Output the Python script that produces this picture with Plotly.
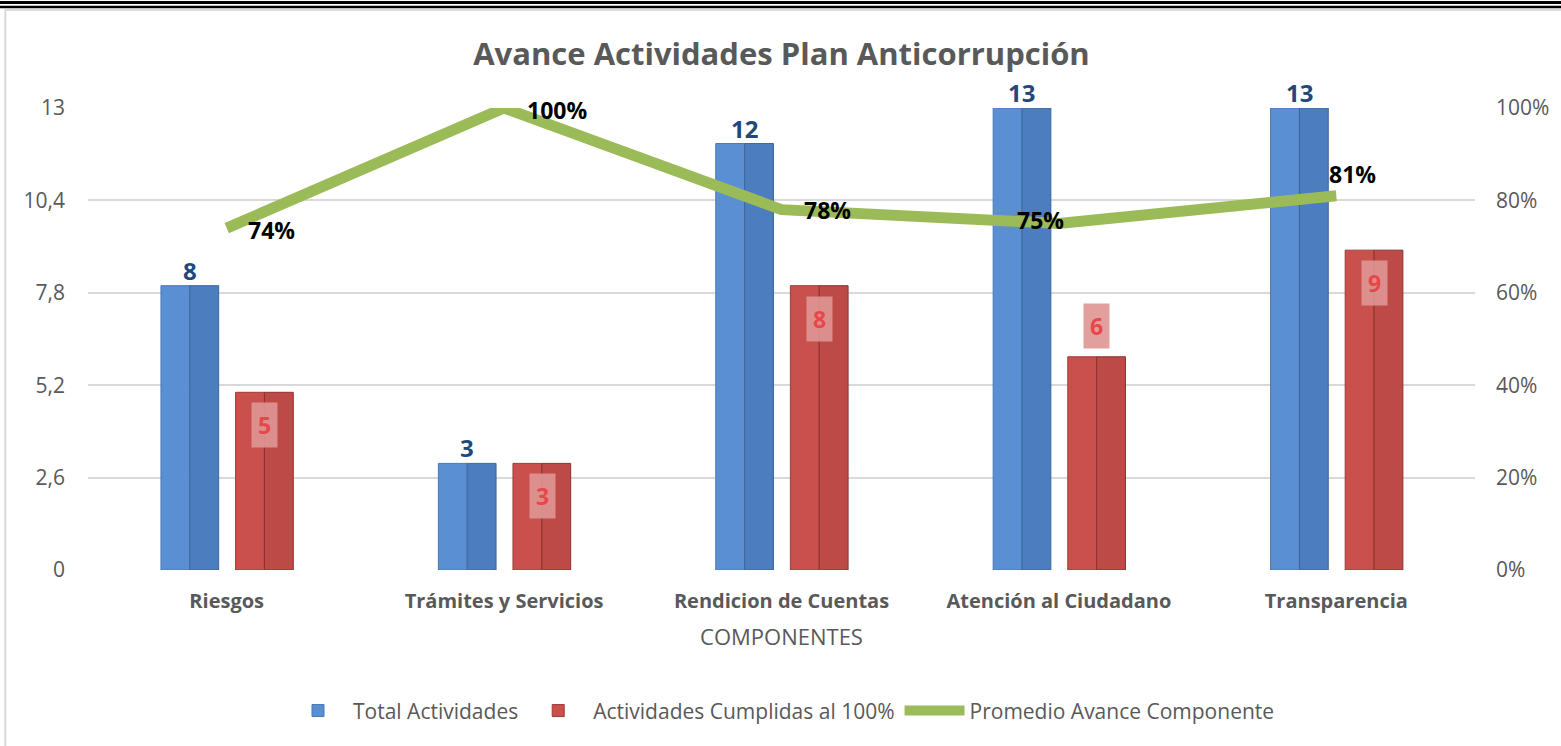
import plotly.graph_objects as go

categories = ["Riesgos", "Trámites y Servicios", "Rendicion de Cuentas", "Atención al Ciudadano", "Transparencia"]
total_actividades = [8, 3, 12, 13, 13]
actividades_cumplidas = [5, 3, 8, 6, 9]
promedio_avance = [0.74, 1.00, 0.78, 0.75, 0.81]
left_tick_vals = [0, 2.6, 5.2, 7.8, 10.4, 13]
left_tick_text = ["0", "2,6", "5,2", "7,8", "10,4", "13"]

FONT = "Open Sans"
GRAY = "#595959"

# styling (not data): label offsets in pixels
line_label_dx = [45, 53, 46, -18, 16]
line_label_dy = [-2, -2, 0, 4, 22]
red_label_above = [False, False, False, True, False]

fig = go.Figure()

BW = 0.104
fig.add_trace(go.Bar(x=categories, y=total_actividades, name="Total Actividades",
                     width=BW, offset=-0.237, marker=dict(color="#5B8FD3", line=dict(color="#4A78B3", width=1)),
                     legendgroup="t", showlegend=True, hoverinfo="skip"))
fig.add_trace(go.Bar(x=categories, y=total_actividades, name="Total Actividades",
                     width=BW, offset=-0.133, marker=dict(color="#4C7DBE", line=dict(color="#3E6699", width=1)),
                     legendgroup="t", showlegend=False, hoverinfo="skip"))
fig.add_trace(go.Bar(x=categories, y=actividades_cumplidas, name="Actividades Cumplidas al 100%",
                     width=BW, offset=0.032, marker=dict(color="#C9504D", line=dict(color="#9E3B39", width=1)),
                     legendgroup="c", showlegend=True, hoverinfo="skip"))
fig.add_trace(go.Bar(x=categories, y=actividades_cumplidas, name="Actividades Cumplidas al 100%",
                     width=BW, offset=0.136, marker=dict(color="#BE4A47", line=dict(color="#8A3230", width=1)),
                     legendgroup="c", showlegend=False, hoverinfo="skip"))

fig.add_trace(go.Scatter(x=categories, y=promedio_avance, yaxis="y2", name="Promedio Avance Componente",
                         mode="lines", line=dict(color="#9BBB59", width=11), cliponaxis=False,
                         hoverinfo="skip"))

annotations = []
for c, v in zip(categories, total_actividades):
    annotations.append(dict(x=c, y=v, xref="x", yref="y", text=f"<b>{v}</b>", showarrow=False,
                            xshift=-37, yanchor="bottom", yshift=-3,
                            font=dict(family=FONT, size=24, color="#1F497D")))
for c, v, above in zip(categories, actividades_cumplidas, red_label_above):
    annotations.append(dict(x=c, y=v, xref="x", yref="y", text=f"<b>{v}</b>", showarrow=False,
                            xshift=38, yanchor="bottom" if above else "top", yshift=8 if above else -10,
                            bgcolor="rgba(222,150,148,0.9)", borderpad=6,
                            font=dict(family=FONT, size=23, color="#E8474A")))
for c, v, dx, dy in zip(categories, promedio_avance, line_label_dx, line_label_dy):
    annotations.append(dict(x=c, y=v, xref="x", yref="y2", text=f"<b>{round(v*100)}%</b>", showarrow=False,
                            xanchor="center", yanchor="middle", xshift=dx, yshift=dy,
                            font=dict(family=FONT, size=23, color="#000000")))

shapes = [
    dict(type="line", xref="paper", yref="paper", x0=-0.07, x1=1.07, y0=(570 - 2.5) / 462, y1=(570 - 2.5) / 462,
         line=dict(color="#000000", width=3)),
    dict(type="line", xref="paper", yref="paper", x0=-0.07, x1=1.07, y0=(570 - 7) / 462, y1=(570 - 7) / 462,
         line=dict(color="#000000", width=2.5)),
    dict(type="rect", xref="paper", yref="paper", x0=-0.0596, x1=1.2, y0=-0.5, y1=(570 - 10) / 462,
         line=dict(color="#D9D9D9", width=2), fillcolor="rgba(0,0,0,0)", layer="below"),
]

fig.update_layout(
    width=1561, height=746,
    margin=dict(l=88, r=80, t=108, b=176),
    paper_bgcolor="white", plot_bgcolor="white",
    font=dict(family=FONT, color=GRAY, size=18),
    title=dict(text="<b>Avance Actividades Plan Anticorrupción</b>", x=0.5, xref="paper", xanchor="center",
               y=1 - 54 / 746, yanchor="middle", font=dict(family=FONT, size=31, color=GRAY)),
    barmode="overlay",
    xaxis=dict(type="category", showgrid=False, showline=False, ticks="",
               tickfont=dict(family=FONT, size=20, color=GRAY, weight="bold"),
               title=dict(text="COMPONENTES", font=dict(family=FONT, size=22, color=GRAY), standoff=16),
               ticklabelstandoff=17),
    yaxis=dict(range=[0, 13], tickvals=left_tick_vals, ticktext=left_tick_text,
               showgrid=True, gridcolor="#D9D9D9", gridwidth=2, zeroline=False, showline=False,
               tickfont=dict(family=FONT, size=21, color=GRAY), ticklabelstandoff=22),
    yaxis2=dict(range=[0, 1], overlaying="y", side="right", tickformat=".0%", dtick=0.2,
                showgrid=False, zeroline=False, showline=False,
                tickfont=dict(family=FONT, size=21, color=GRAY), ticklabelstandoff=20),
    legend=dict(orientation="h", x=0.5, xanchor="center", y=-0.305, yanchor="middle",
                font=dict(family=FONT, size=21, color=GRAY), traceorder="normal",
                itemwidth=60, entrywidth=0),
    annotations=annotations,
    shapes=shapes,
    showlegend=True,
)

fig.write_html("out.html", config={"displayModeBar": False},
               post_script="document.body.style.margin='0';document.body.style.padding='0';")
